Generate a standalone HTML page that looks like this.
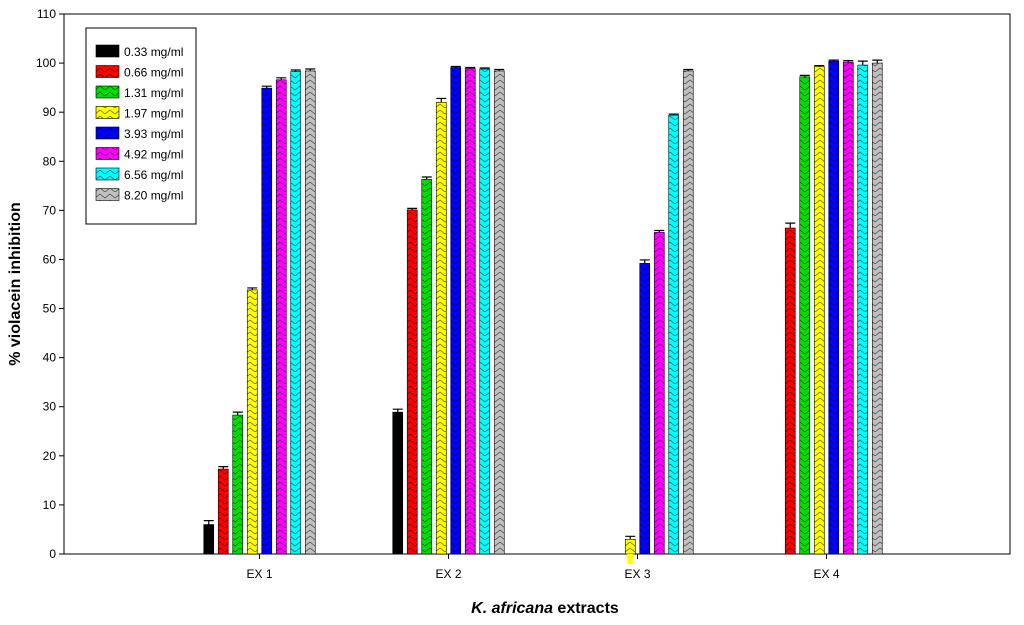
<!DOCTYPE html>
<html><head><meta charset="utf-8"><style>body{margin:0;background:#fff}svg{display:block;font-family:"Liberation Sans",Arial,sans-serif}</style></head>
<body>
<svg id="c" width="1024" height="625" viewBox="0 0 1024 625">
<defs>
<pattern id="pz" width="10" height="12" patternUnits="userSpaceOnUse"><path d="M0,2 L5,6 L10,2 M0,8 L5,12 L10,8" stroke="#000" stroke-width="0.8" fill="none" opacity="0.6"/></pattern>
</defs>
<g id="plot"></g>
</svg>
<script>
const groups=["EX 1","EX 2","EX 3","EX 4"];
const seriesNames=["0.33 mg/ml","0.66 mg/ml","1.31 mg/ml","1.97 mg/ml","3.93 mg/ml","4.92 mg/ml","6.56 mg/ml","8.20 mg/ml"];
const colors=["#000000","#ff0000","#00e000","#ffff00","#0000ff","#ff00ff","#00ffff","#c0c0c0"];
const s0=[6.0,28.9,0,0];
const s1=[17.3,70.1,0,66.4];
const s2=[28.3,76.3,0,97.2];
const s3=[53.8,92.0,3.0,99.3];
const s4=[94.9,99.1,59.2,100.4];
const s5=[96.6,98.9,65.5,100.2];
const s6=[98.3,98.8,89.4,99.6];
const s7=[98.4,98.4,98.4,100.0];
const errs=[[0.8,0.6,0,0],[0.5,0.3,0,1.0],[0.6,0.5,0,0.3],[0.4,0.8,0.6,0.2],[0.4,0.2,0.7,0.2],[0.4,0.2,0.4,0.3],[0.3,0.2,0.2,0.8],[0.4,0.3,0.3,0.6]];
const series=[s0,s1,s2,s3,s4,s5,s6,s7];
const yTicks=[0,10,20,30,40,50,60,70,80,90,100,110];

const NS="http://www.w3.org/2000/svg";
const g=document.getElementById('plot');
const L=64,R=1010,T=14,B=554;
const y=v=>B-(v/110)*(B-T);
const gx=i=>259.5+i*189;
const bx=(i,k)=>gx(i)+(k-3.5)*14.5;
function mk(t,a,p){const e=document.createElementNS(NS,t);for(const k in a)e.setAttribute(k,a[k]);(p||g).appendChild(e);return e;}

let ax=mk('rect',{x:L,y:T,width:R-L,height:B-T,fill:'none',stroke:'#000','stroke-width':1});


yTicks.forEach(v=>{
  let t=mk('line',{x1:L-5,x2:L,y1:y(v),y2:y(v),stroke:'#000'});
  
  
  let l=mk('text',{x:L-8,y:y(v)+4,'text-anchor':'end','font-size':12});
  l.textContent=v;
  
  
});
groups.forEach((n,i)=>{
  let t=mk('line',{x1:gx(i),x2:gx(i),y1:B,y2:B+5,stroke:'#000'});
  
  
  let l=mk('text',{x:gx(i),y:B+24,'text-anchor':'middle','font-size':12});
  l.textContent=n;
  
  
});
series.forEach((s,k)=>{
  s.forEach((v,i)=>{
    if(v<=0)return;
    const x=bx(i,k)-5;
    let r=mk('rect',{x:x,y:y(v),width:10,height:B-y(v),fill:colors[k],stroke:'#000','stroke-width':0.6});
    
    
    if(k>0){let p=mk('rect',{x:x,y:y(v),width:10,height:B-y(v),fill:'url(#pz)'});
    
    }
    const e=errs[k][i];
    if(e>0){let el=mk('path',{d:`M${x},${y(v+e)}H${x+10}M${x+5},${y(v+e)}V${y(v)}`,stroke:'#000','stroke-width':1.2});
    
    }
  });
});
// small yellow below axis at EX3
let yb=mk('rect',{x:bx(2,3)-3,y:B,width:6,height:10,fill:'#ffff00'});



let lg=mk('rect',{x:86,y:28,width:110,height:196,fill:'#fff',stroke:'#000'});


seriesNames.forEach((n,k)=>{
  const yy=51+k*20.5;
  let sw=mk('rect',{x:96,y:yy-6,width:23,height:12,fill:colors[k],stroke:'#000','stroke-width':0.6});
  
  
  if(k>0){let p=mk('rect',{x:96,y:yy-6,width:23,height:12,fill:'url(#pz)'});
  
  }
  let t=mk('text',{x:124,y:yy+5,'font-size':12});
  t.textContent=n;
  
  
});
let yt=mk('text',{x:20,y:284,'text-anchor':'middle','font-size':16,'font-weight':'bold',transform:'rotate(-90 20 284)'});
yt.textContent='% violacein inhibition';


let xt=mk('text',{x:545,y:613,'text-anchor':'middle','font-size':16,'font-weight':'bold'});
xt.innerHTML='<tspan font-style="italic">K. africana</tspan> extracts';


</script>
</body></html>
